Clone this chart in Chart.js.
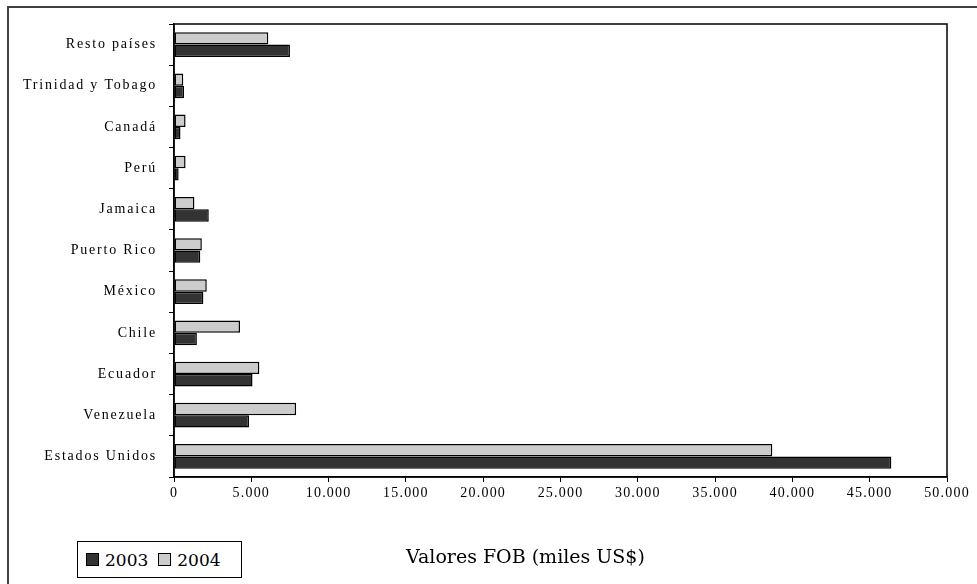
<!DOCTYPE html>
<html>
<head>
<meta charset="utf-8">
<script src="https://cdn.jsdelivr.net/npm/chart.js@4/dist/chart.umd.min.js"></script>
<style>
    html, body { margin: 0; padding: 0; background: #fff; }
    #wrap { position: relative; width: 977px; height: 584px; overflow: hidden; }
    #frame { position: absolute; left: 7px; top: 6px; width: 1000px; height: 600px; border: 2px solid #404040; box-sizing: border-box; }
    #chart { position: absolute; left: 0; top: 0; }
    #legend { position: absolute; left: 77px; top: 541px; width: 165px; height: 37px; border: 1px solid #000; box-sizing: border-box; background: #fff;
              font-family: 'DejaVu Serif', serif; font-size: 17px; color: #000; display: flex; align-items: center; padding-left: 8px; }
    .sw { display: inline-block; width: 11px; height: 11px; border: 1px solid #000; margin-right: 6px; }
    .item { display: flex; align-items: center; margin-right: 10px; }
    #xtitle { position: absolute; left: 406px; top: 545px; font-family: 'DejaVu Serif', serif; font-size: 19px; color: #000; white-space: nowrap; }
</style>
</head>
<body>
<div id="wrap">
    <div id="frame"></div>
    <canvas id="chart" width="977" height="584"></canvas>
    <div id="legend"></div>
    <div id="xtitle"></div>
</div>
<script>
// Data (top to bottom as drawn)
const countries = ['Resto países', 'Trinidad y Tobago', 'Canadá', 'Perú', 'Jamaica', 'Puerto Rico',
                   'México', 'Chile', 'Ecuador', 'Venezuela', 'Estados Unidos'];
const values2003 = [7500, 650, 420, 300, 2250, 1700, 1900, 1480, 5080, 4850, 46400];
const values2004 = [6100, 600, 750, 750, 1320, 1800, 2120, 4270, 5520, 7900, 38700];
const years = ['2003', '2004'];
const xTicks = [0, 5000, 10000, 15000, 20000, 25000, 30000, 35000, 40000, 45000, 50000];
const xTitle = 'Valores FOB (miles US$)';

const colors = { '2003': '#333333', '2004': '#cccccc' };

function formatThousands(v) {
    return String(v).replace(/\B(?=(\d{3})+(?!\d))/g, '.');
}

// Frame around the plot area, letter spacing like the original
const plotFrame = {
    id: 'plotFrame',
    beforeDraw(chart) {
        chart.ctx.letterSpacing = '1.2px';
        const y = chart.scales.y;
        if (!y._spaced) {
            const orig = y.drawLabels.bind(y);
            y.drawLabels = (area) => {
                const c = y.ctx;
                const prev = c.letterSpacing;
                c.letterSpacing = '1.8px';
                orig(area);
                c.letterSpacing = prev;
            };
            y._spaced = true;
        }
    },
    afterDatasetsDraw(chart) {
        const { ctx, chartArea: a } = chart;
        ctx.save();
        ctx.strokeStyle = '#000';
        ctx.lineWidth = 1.5;
        ctx.strokeRect(a.left, a.top, a.right - a.left, a.bottom - a.top);
        ctx.restore();
    }
};

const ctx = document.getElementById('chart').getContext('2d');
const chart = new Chart(ctx, {
    type: 'bar',
    data: {
        labels: countries,
        datasets: [
            { label: '2004', data: values2004, backgroundColor: colors['2004'] },
            { label: '2003', data: values2003, backgroundColor: colors['2003'] }
        ].map(d => Object.assign(d, {
            borderColor: '#000',
            borderWidth: 1.5,
            borderSkipped: false,
            categoryPercentage: 0.6,
            barPercentage: 1.0
        }))
    },
    options: {
        indexAxis: 'y',
        responsive: false,
        animation: false,
        layout: { padding: { left: 0, top: 24, right: 30, bottom: 77 } },
        plugins: {
            legend: { display: false },
            tooltip: { enabled: false }
        },
        scales: {
            x: {
                min: 0,
                max: 50000,
                afterBuildTicks: (scale) => { scale.ticks = xTicks.map(v => ({ value: v })); },
                afterFit: (scale) => { scale.height = 30; },
                grid: { drawOnChartArea: false, drawTicks: true, tickLength: 5, color: '#000', lineWidth: 1 },
                border: { color: '#000', width: 1.5 },
                ticks: {
                    color: '#000',
                    padding: 3,
                    maxRotation: 0,
                    font: { family: 'Liberation Serif', size: 14 },
                    callback: (v) => formatThousands(v)
                }
            },
            y: {
                afterFit: (scale) => { scale.width = 174; },
                grid: { drawOnChartArea: false, drawTicks: true, tickLength: 5, color: '#000', lineWidth: 1, offset: true },
                border: { color: '#000', width: 1.5 },
                ticks: {
                    color: '#000',
                    padding: 12,
                    font: { family: 'Liberation Serif', size: 14 }
                }
            }
        }
    },
    plugins: [plotFrame]
});

// Legend (2003 first, as in the original) and axis title
const legend = document.getElementById('legend');
years.forEach(y => {
    const item = document.createElement('span');
    item.className = 'item';
    item.innerHTML = `<span class="sw" style="background:${colors[y]}"></span>${y}`;
    legend.appendChild(item);
});
document.getElementById('xtitle').textContent = xTitle;
</script>
</body>
</html>
